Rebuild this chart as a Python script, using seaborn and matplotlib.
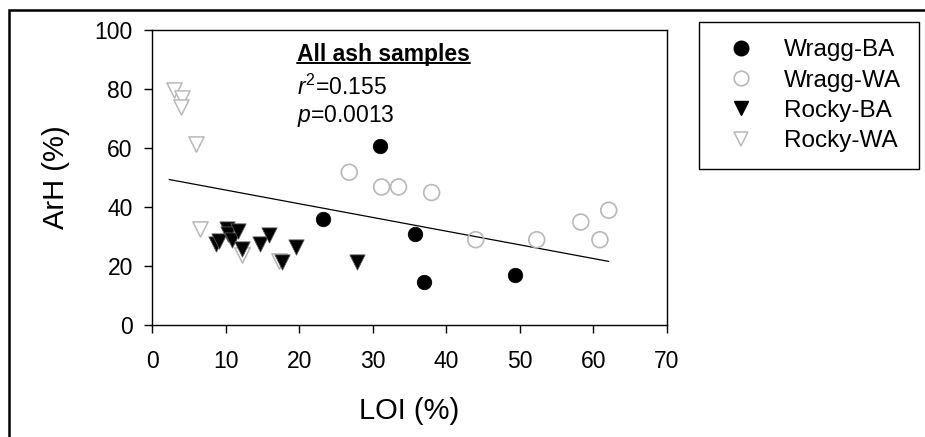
import numpy as np
import pandas as pd
import matplotlib
matplotlib.use("Agg")
import matplotlib.pyplot as plt
from matplotlib.patches import Rectangle
from matplotlib.lines import Line2D
import seaborn as sns

# ---------------- data ----------------
wragg_ba_x = [23.2, 31.0, 35.7, 36.9, 49.3]
wragg_ba_y = [35.7, 60.6, 30.6, 14.6, 16.7]

wragg_wa_x = [26.8, 31.2, 33.5, 38.0, 44.0, 52.3, 58.3, 60.9, 62.1]
wragg_wa_y = [51.7, 46.7, 46.7, 44.8, 28.8, 28.8, 34.8, 28.8, 38.8]

rocky_ba_x = [8.6, 9.1, 10.1, 10.3, 10.8, 11.6, 12.2, 14.6, 15.9, 17.6, 19.5, 27.9]
rocky_ba_y = [27.4, 28.3, 32.5, 30.8, 28.6, 31.6, 25.5, 27.2, 30.3, 21.2, 26.3, 21.2]

rocky_wa_x = [2.9, 4.1, 3.9, 5.9, 6.5, 12.2, 17.3]
rocky_wa_y = [79.6, 76.8, 73.7, 61.2, 32.3, 23.5, 21.4]

# regression line shown in the figure (all ash samples)
fit_intercept = 50.3
fit_slope = -0.465
fit_x = [2.3, 62.1]

x_ticks = [0, 10, 20, 30, 40, 50, 60, 70]
y_ticks = [0, 20, 40, 60, 80, 100]

title_text = "All ash samples"
r2_text = r"$\mathit{r}^2$=0.155"
p_text = r"$\mathit{p}$=0.0013"

# ---------------- style ----------------
sns.set_style("ticks")
plt.rcParams["font.family"] = ["Liberation Sans", "DejaVu Sans"]
plt.rcParams["mathtext.fontset"] = "custom"
plt.rcParams["mathtext.rm"] = "Liberation Sans"
plt.rcParams["mathtext.it"] = "Liberation Sans:italic"
plt.rcParams["mathtext.bf"] = "Liberation Sans:bold"
plt.rcParams["text.color"] = "black"
plt.rcParams["axes.labelcolor"] = "black"
plt.rcParams["xtick.color"] = "black"
plt.rcParams["ytick.color"] = "black"

GRAY = "#b8b8b8"

fig = plt.figure(figsize=(9.25, 4.37), dpi=100)
W, H = 925, 437
ax = fig.add_axes([152.3 / W, 1 - 324.5 / H, (666.8 - 152.3) / W, (324.5 - 30) / H])

# outer frame of the figure
fig.patches.append(Rectangle((8.7 / W, -0.2), 1.5, 1 - 9.8 / H + 0.2,
                             transform=fig.transFigure, fill=False,
                             edgecolor="black", linewidth=1.8, zorder=0))

# regression line
fit_df = pd.DataFrame({"x": fit_x})
fit_df["y"] = fit_intercept + fit_slope * fit_df["x"]
sns.lineplot(data=fit_df, x="x", y="y", color="black", linewidth=0.9, ax=ax,
             zorder=2, legend=False)

# scatter groups
sns.scatterplot(x=rocky_wa_x, y=rocky_wa_y, marker="v", s=120,
                facecolor="white", edgecolor=GRAY, linewidth=1.1,
                ax=ax, zorder=3)
sns.scatterplot(x=rocky_ba_x, y=rocky_ba_y, marker="v", s=120,
                color="black", edgecolor="#555555", linewidth=0.6,
                ax=ax, zorder=4)
sns.scatterplot(x=wragg_wa_x, y=wragg_wa_y, marker="o", s=130,
                facecolor="none", edgecolor=GRAY, linewidth=1.2,
                ax=ax, zorder=3)
sns.scatterplot(x=wragg_ba_x, y=wragg_ba_y, marker="o", s=110,
                color="black", edgecolor="black", linewidth=0.5,
                ax=ax, zorder=4)

ax.set_xlim(0, 70)
ax.set_ylim(0, 100)
ax.set_xticks(x_ticks)
ax.set_yticks(y_ticks)
for s in ax.spines.values():
    s.set_visible(True)
    s.set_linewidth(1.0)
    s.set_color("black")
ax.tick_params(axis="both", direction="out", length=6, width=1.0,
               colors="black", labelsize=16.5)
ax.tick_params(axis="x", pad=12)
ax.tick_params(axis="y", pad=8)

ax.set_xlabel("LOI (%)", fontsize=21, color="black")
ax.set_ylabel("ArH (%)", fontsize=21, color="black")
ax.xaxis.set_label_coords(0.5, -0.245)
ax.yaxis.set_label_coords(-0.16, 0.5)

# annotation
t = ax.text(19.7, 89.6, title_text, fontsize=16.5, fontweight="bold",
            ha="left", va="baseline", zorder=5, color="black")
ax.text(19.7, 78.0, r2_text, fontsize=16.5, ha="left", va="baseline",
        zorder=5, color="black")
ax.text(19.7, 68.9, p_text, fontsize=16.5, ha="left", va="baseline",
        zorder=5, color="black")

# underline the bold title
fig.canvas.draw()
bb = t.get_window_extent(renderer=fig.canvas.get_renderer())
inv = fig.transFigure.inverted()
(x0, _), (x1, _) = inv.transform([(bb.x0, 0), (bb.x1, 0)])
y_ul = 1 - 63.3 / H
fig.lines.append(Line2D([x0, x1], [y_ul, y_ul], transform=fig.transFigure,
                        color="black", linewidth=1.4))

# legend
handles = [
    Line2D([], [], linestyle="none", marker="o", markersize=10.5,
           markerfacecolor="black", markeredgecolor="black"),
    Line2D([], [], linestyle="none", marker="o", markersize=10.5,
           markerfacecolor="none", markeredgecolor=GRAY, markeredgewidth=1.2),
    Line2D([], [], linestyle="none", marker="v", markersize=10.5,
           markerfacecolor="black", markeredgecolor="black"),
    Line2D([], [], linestyle="none", marker="v", markersize=10.5,
           markerfacecolor="white", markeredgecolor=GRAY, markeredgewidth=1.1),
]
labels = ["Wragg-BA", "Wragg-WA", "Rocky-BA", "Rocky-WA"]
leg = fig.legend(handles, labels, loc="upper left",
                 bbox_to_anchor=(699.3 / W, 1 - 22.3 / H),
                 bbox_transform=fig.transFigure, frameon=True, fancybox=False,
                 edgecolor="black", framealpha=1, fontsize=17.5,
                 handlelength=2.0, handletextpad=0.8, borderpad=0.7,
                 labelspacing=0.34, borderaxespad=0)
leg.get_frame().set_linewidth(1.0)
for txt in leg.get_texts():
    txt.set_color("black")

fig.savefig("out.png", dpi=100)
